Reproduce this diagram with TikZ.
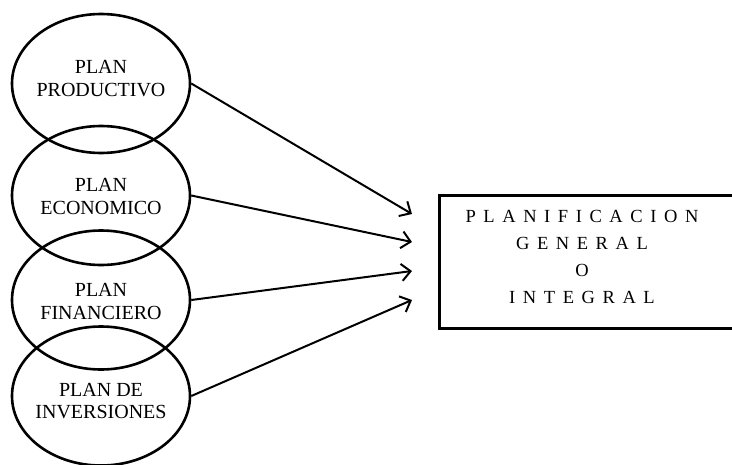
\documentclass[tikz,border=0pt]{standalone}
\usepackage{fontspec}
\setmainfont{Liberation Serif}
\usetikzlibrary{shapes.geometric,arrows.meta}
\begin{document}
\begin{tikzpicture}[x=1pt,y=-1pt,
  ell/.style={draw, ellipse, line width=2.6pt, minimum width=178pt, minimum height=139pt, inner sep=0pt},
  etext/.style={align=center, inner sep=0pt, font=\fontsize{20}{22.5}\selectfont},
  arr/.style={line width=2pt, -{Straight Barb[length=9pt,width=17pt,line width=2pt]}},
  boxst/.style={draw, line width=2.5pt, minimum width=330pt, minimum height=133pt, inner sep=0pt, anchor=north west},
  btext/.style={align=center, inner sep=0pt, font=\fontsize{18.5}{27}\selectfont\addfontfeature{LetterSpace=41}}]
\useasboundingbox (0,0) rectangle (732,464);
\clip (0,0) rectangle (732,464);
\node[ell] (e1) at (101,83.5) {};
\node[ell] (e2) at (101,195.5) {};
\node[ell] (e3) at (101,300) {};
\node[ell] (e4) at (101,396) {};
\node[etext] (t1) at (101,78.5) {PLAN\\PRODUCTIVO};
\node[etext] (t2) at (101,196.5) {PLAN\\ECONOMICO};
\node[etext] (t3) at (101,301.5) {PLAN\\FINANCIERO};
\node[etext] (t4) at (101,401) {PLAN DE\\INVERSIONES};
\node[boxst] (box) at (438,194) {};
\node[btext] (bt) at (582,256.5) {PLANIFICACION\\GENERAL\\O\\INTEGRAL};
\coordinate (a1) at (412,214);
\coordinate (a2) at (412,242);
\coordinate (a3) at (412,271);
\coordinate (a4) at (412,300);
\draw[arr] (e1.east) -- (a1);
\draw[arr] (e2.east) -- (a2);
\draw[arr] (e3.east) -- (a3);
\draw[arr] (e4.east) -- (a4);
\end{tikzpicture}
\end{document}
